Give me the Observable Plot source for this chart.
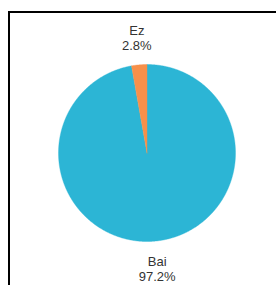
<!DOCTYPE html>
<html><head><meta charset="utf-8">
<script src="https://cdn.jsdelivr.net/npm/d3@7"></script>
<script src="https://cdn.jsdelivr.net/npm/@observablehq/plot@0.6"></script>
<style>
html,body{margin:0;padding:0;background:#fff;overflow:hidden}
#chart{position:relative;width:276px;height:285px;overflow:hidden}
#chart svg{display:block;position:absolute;left:0;top:0}
#box{position:absolute;left:8px;top:11px;width:400px;height:400px;border-left:2px solid #000;border-top:2px solid #000;pointer-events:none}
</style></head><body>
<div id="chart"><div id="box"></div></div>
<script>
const categories = ["Bai", "Ez"];
const values = [97.2, 2.8];
const colors = ["#2cb5d5", "#f7904a"];

const total = d3.sum(values);
const arcs = d3.pie().sort(null).value(d => d.value)(
  categories.map((c, i) => ({category: c, value: values[i]}))
);

const slicePts = [];
for (const a of arcs) {
  const cat = a.data.category;
  const n = Math.max(2, Math.ceil((a.endAngle - a.startAngle) / 0.005));
  slicePts.push({cat, x: 0, y: 0});
  for (let k = 0; k <= n; k++) {
    const ang = a.startAngle + (a.endAngle - a.startAngle) * k / n;
    slicePts.push({cat, x: Math.sin(ang), y: Math.cos(ang)});
  }
  slicePts.push({cat, x: 0, y: 0});
}

const labelR = 1.31;
const labels = arcs.map(a => {
  const mid = (a.startAngle + a.endAngle) / 2;
  return {
    x: Math.sin(mid) * labelR,
    y: Math.cos(mid) * labelR,
    text: `${a.data.category}\n${(a.data.value / total * 100).toFixed(1)}%`
  };
});

const chart = Plot.plot({
  width: 276,
  height: 285,
  margin: 0,
  x: {domain: [-1, 1], range: [58, 235], axis: null},
  y: {domain: [-1, 1], range: [241, 64], axis: null},
  color: {domain: categories, range: colors},
  style: {fontFamily: "'Liberation Sans', Arial, sans-serif", background: "transparent"},
  marks: [
    Plot.line(slicePts, {x: "x", y: "y", z: "cat", fill: "cat", stroke: "cat", strokeWidth: 0.4, curve: "linear-closed"}),
    Plot.text(labels, {x: "x", y: "y", text: "text", fontSize: 13, lineHeight: 15/13, fill: "#333"})
  ]
});
document.getElementById("chart").prepend(chart);
</script>
</body></html>
